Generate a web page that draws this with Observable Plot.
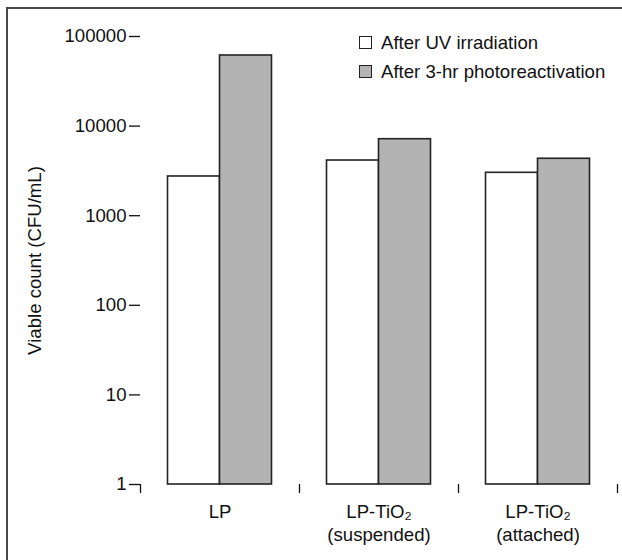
<!DOCTYPE html>
<html>
<head>
<meta charset="utf-8">
<script src="https://cdn.jsdelivr.net/npm/d3@7"></script>
<script src="https://cdn.jsdelivr.net/npm/@observablehq/plot@0.6"></script>
<style>
  html, body { margin: 0; padding: 0; background: #fff; overflow: hidden; }
  #wrap { position: relative; width: 622px; height: 560px; font-family: "Liberation Sans", Arial, sans-serif; }
  #frame { position: absolute; left: 6px; top: 7px; width: 700px; height: 700px;
           border-left: 2px solid #4a4a4a; border-top: 2px solid #4a4a4a; pointer-events: none; }
  #legend { position: absolute; left: 359px; top: 28px; font-size: 18.6px; color: #111; }
  .row { display: flex; align-items: center; height: 29px; white-space: nowrap; }
  .sw { width: 13px; height: 13px; box-sizing: border-box; border: 1px solid #222; margin-right: 9px; }
</style>
</head>
<body>
<div id="wrap">
  <div id="chart"></div>
  <div id="legend"></div>
  <div id="frame"></div>
</div>
<script>
// ---- data ----
const groups = ["LP", "LP-TiO\u2082\n(suspended)", "LP-TiO\u2082\n(attached)"];
const seriesNames = ["After UV irradiation", "After 3-hr photoreactivation"];
const uvValues = [2740, 4130, 3010];
const photoValues = [61400, 7140, 4320];
const yTicks = [1, 10, 100, 1000, 10000, 100000];
const seriesFill = ["#ffffff", "#b3b3b3"];

const barWidth = 0.327;

const rows = groups.flatMap((g, i) => [
  {group: g, i, s: 0, series: seriesNames[0], value: uvValues[i]},
  {group: g, i, s: 1, series: seriesNames[1], value: photoValues[i]}
]);

const chart = Plot.plot({
  width: 622,
  height: 560,
  marginLeft: 140,
  marginRight: 5,
  marginTop: 36,
  marginBottom: 76,
  style: {fontFamily: '"Liberation Sans", Arial, sans-serif', fontSize: "18.6px", color: "#111", background: "transparent"},
  x: {domain: [0, groups.length], axis: null},
  y: {type: "log", domain: [1, 100000], axis: null},
  color: {domain: seriesNames, range: seriesFill},
  marks: [
    Plot.rect(rows, {
      x1: d => d.i + 0.5 - (1 - d.s) * barWidth,
      x2: d => d.i + 0.5 + d.s * barWidth,
      y1: () => 1,
      y2: "value",
      fill: "series",
      stroke: "#222",
      strokeWidth: 1.6
    }),
    Plot.axisY(yTicks, {
      tickSize: 11, tickPadding: 3, strokeWidth: 1.3,
      tickFormat: d3.format("d"),
      label: "Viable count (CFU/mL)", labelAnchor: "center", labelOffset: 113, labelArrow: "none"
    }),
    Plot.axisX(d3.range(groups.length + 1), {tickSize: 9, strokeWidth: 1.3, tickFormat: () => "", label: null}),
    Plot.text(groups, {
      x: (d, i) => i + 0.5,
      text: d => d,
      frameAnchor: "bottom",
      lineAnchor: "top",
      lineHeight: 1.2,
      dy: 18,
      fill: "#111"
    })
  ]
});
document.getElementById("chart").appendChild(chart);

// legend
const legend = d3.select("#legend");
seriesNames.forEach((name, k) => {
  const row = legend.append("div").attr("class", "row");
  row.append("div").attr("class", "sw").style("background", seriesFill[k]);
  row.append("span").text(name);
});
</script>
</body>
</html>
